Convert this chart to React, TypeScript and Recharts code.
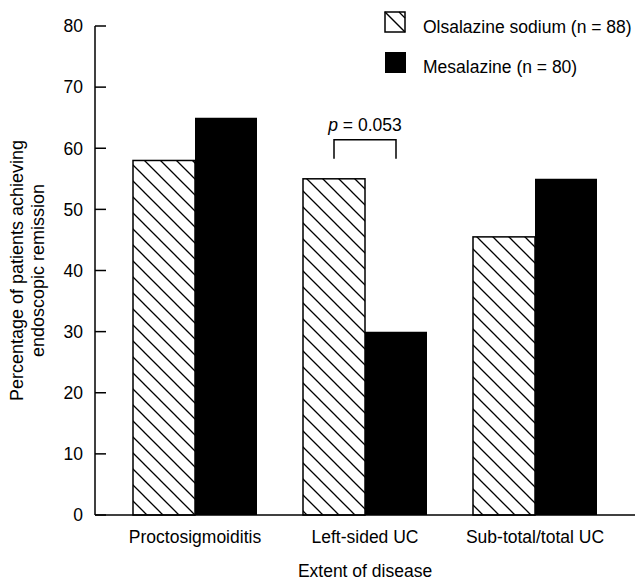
import { BarChart, Bar, XAxis, YAxis, LabelList } from 'recharts'

const categories = ['Proctosigmoiditis', 'Left-sided UC', 'Sub-total/total UC']
const olsalazine = [58, 55, 45.5]
const mesalazine = [65, 30, 55]
const yTicks = [0, 10, 20, 30, 40, 50, 60, 70, 80]

// bracket over Left-sided UC (values in % units)
const bracketIndex = 1
const bracketTop = 61.4
const bracketLeg = 58.3

const data = categories.map((name, i) => ({
  name,
  olsalazine: olsalazine[i],
  mesalazine: mesalazine[i],
}))

const font = '"Liberation Sans", Arial, Helvetica, sans-serif'
const fs = 17.5

const HatchBar = (props: any) => {
  const { x, y, width, height } = props
  return (
    <rect x={x} y={y} width={width} height={height} fill="url(#hatch)" stroke="#000" strokeWidth={1.5} />
  )
}

const YTick = (props: any) => {
  const { x, y, payload } = props
  return (
    <g>
      <line x1={x + 12} y1={y} x2={x + 23} y2={y} stroke="#000" strokeWidth={1.5} />
      <text x={x} y={y} dy="0.36em" textAnchor="end" fontSize={fs} fill="#000" fontFamily={font}>
        {payload.value}
      </text>
    </g>
  )
}

const renderYLabel = (props: any) => {
  const { viewBox } = props
  const cx = 32
  const cy = viewBox.y + viewBox.height / 2
  return (
    <text
      transform={`rotate(-90, ${cx}, ${cy})`}
      x={cx}
      y={cy}
      textAnchor="middle"
      fontSize={18}
      fill="#000"
      fontFamily={font}
    >
      <tspan x={cx} dy={-9}>Percentage of patients achieving</tspan>
      <tspan x={cx} dy={21}>endoscopic remission</tspan>
    </text>
  )
}

const renderXLabel = (props: any) => {
  const { viewBox } = props
  return (
    <text
      x={viewBox.x + viewBox.width / 2}
      y={viewBox.y + 62}
      textAnchor="middle"
      fontSize={fs}
      fill="#000"
      fontFamily={font}
    >
      Extent of disease
    </text>
  )
}

const renderBracket = (props: any) => {
  const { x, y, width, height, value, index } = props
  if (index !== bracketIndex) return null
  const ppu = height / value
  const base = y + height
  const top = base - bracketTop * ppu
  const leg = base - bracketLeg * ppu
  const x1 = x + width / 2
  const x2 = x + width * 1.5
  return (
    <g>
      <path d={`M${x1},${leg} L${x1},${top} L${x2},${top} L${x2},${leg}`} fill="none" stroke="#000" strokeWidth={1.5} />
      <text x={(x1 + x2) / 2} y={top - 9} textAnchor="middle" fontSize={fs} fill="#000" fontFamily={font}>
        <tspan fontStyle="italic">p</tspan> = 0.053
      </text>
    </g>
  )
}

export default function App() {
  return (
    <div style={{ position: 'absolute', left: 0, top: 0, width: 640, height: 580, background: '#fff', fontFamily: font }}>
      <BarChart
        width={640}
        height={580}
        data={data}
        margin={{ top: 26, right: 5, bottom: 0, left: 0 }}
        barGap={0}
        barSize={62}
      >
        <defs>
          <pattern id="hatch" patternUnits="userSpaceOnUse" width={16} height={16}>
            <path d="M0,0 L16,16 M-4,12 L4,20 M12,-4 L20,4" stroke="#000" strokeWidth={1.3} />
          </pattern>
        </defs>
        <XAxis
          dataKey="name"
          interval={0}
          padding={{ left: 15, right: 15 }}
          tickLine={false}
          tickSize={0}
          tickMargin={16}
          height={65}
          axisLine={{ stroke: '#000', strokeWidth: 1.5 }}
          tick={{ fill: '#000', fontSize: fs, fontFamily: font }}
          label={renderXLabel}
        />
        <YAxis
          domain={[0, 80]}
          ticks={yTicks}
          width={95}
          tickLine={false}
          tickSize={0}
          tickMargin={12}
          axisLine={{ stroke: '#000', strokeWidth: 1.5 }}
          tick={YTick}
          label={renderYLabel}
        />
        <Bar dataKey="olsalazine" shape={HatchBar} isAnimationActive={false}>
          <LabelList dataKey="olsalazine" content={renderBracket} />
        </Bar>
        <Bar dataKey="mesalazine" fill="#000" isAnimationActive={false} />
      </BarChart>

      {/* legend */}
      <svg width={260} height={80} style={{ position: 'absolute', left: 380, top: 5 }}>
        <rect x={5} y={7} width={20} height={20} fill="#fff" stroke="#000" strokeWidth={1.5} />
        <line x1={5} y1={7} x2={25} y2={27} stroke="#000" strokeWidth={1.5} />
        <line x1={19} y1={7} x2={25} y2={13} stroke="#000" strokeWidth={1.2} />
        <text x={43} y={28} fontSize={fs} fill="#000" fontFamily={font}>Olsalazine sodium (n = 88)</text>
        <rect x={5} y={47} width={21} height={21} fill="#000" />
        <text x={43} y={68} fontSize={fs} fill="#000" fontFamily={font}>Mesalazine (n = 80)</text>
      </svg>
    </div>
  )
}
